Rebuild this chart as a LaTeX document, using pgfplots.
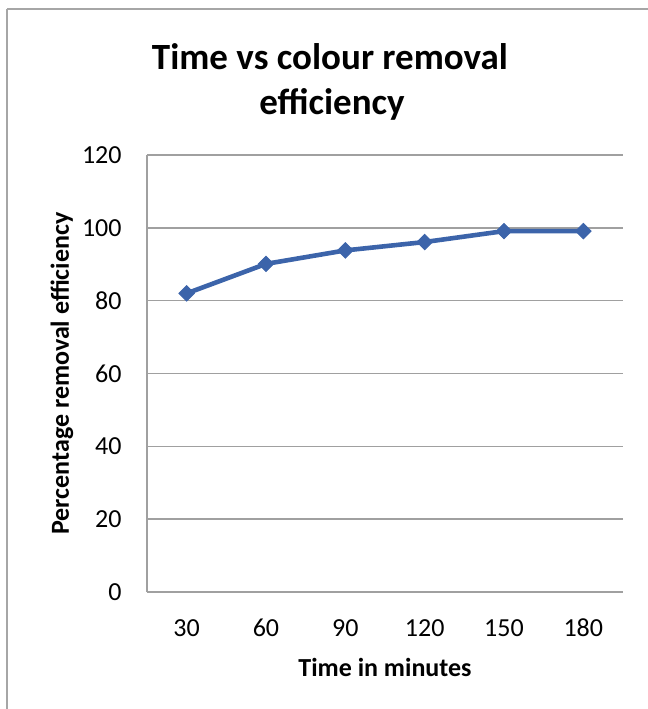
\documentclass[border=0pt]{standalone}
\usepackage{pgfplots}
\pgfplotsset{compat=1.18}
\usepackage{fontspec}
\setmainfont{Carlito}
\definecolor{serblue}{HTML}{3C64AA}
\definecolor{gridgray}{HTML}{A0A0A0}
\definecolor{framegray}{HTML}{A6A6A6}
\begin{document}
\begin{tikzpicture}[x=1pt,y=1pt]
\useasboundingbox (-73.5,-58.5) rectangle (250.5,296);
\draw[framegray, line width=0.7pt] (-70,-60) -- (-70,291.5);
\draw[framegray, line width=0.7pt] (-70,291.5) -- (252,291.5);
\node[font=\fontsize{18.5}{22}\selectfont\bfseries, anchor=base, inner sep=0pt] at (91.5,261.5) {Time vs colour removal};
\node[font=\fontsize{18.5}{22}\selectfont\bfseries, anchor=base, inner sep=0pt] at (92.5,239) {efficiency};
\begin{axis}[
  at={(0,0)}, anchor=south west, scale only axis,
  width=238pt, height=218.5pt,
  xmin=0.5, xmax=6.5, ymin=0, ymax=120,
  xtick={1,2,3,4,5,6}, xticklabels={30,60,90,120,150,180},
  ytick={0,20,40,60,80,100,120},
  axis lines*=left,
  axis line style={gridgray, line width=0.7pt, -},
  ymajorgrids, grid style={gridgray, line width=0.7pt},
  major tick length=0pt,
  /pgf/number format/assume math mode=true,
  tick label style={font=\fontsize{13}{15}\selectfont, inner sep=0pt},
  xticklabel style={anchor=center, yshift=-18pt},
  yticklabel style={anchor=east, xshift=-12.5pt},
  xlabel={Time in minutes},
  ylabel={Percentage removal efficiency},
  every axis x label/.style={at={(axis description cs:0.5,0)}, anchor=center, yshift=-37.5pt, font=\fontsize{13}{15}\selectfont\bfseries},
  every axis y label/.style={at={(axis description cs:0,0.5)}, anchor=center, rotate=90, yshift=42.5pt, font=\fontsize{13}{15}\selectfont\bfseries},
  clip=false,
]
\addplot[serblue, line width=2.3pt, mark=square*, mark size=2.7pt, mark options={rotate=45, solid, fill=serblue, line width=0.5pt}]
  coordinates {(1,82) (2,90.1) (3,93.8) (4,96.1) (5,99.1) (6,99.1)};
\end{axis}
\end{tikzpicture}
\end{document}
